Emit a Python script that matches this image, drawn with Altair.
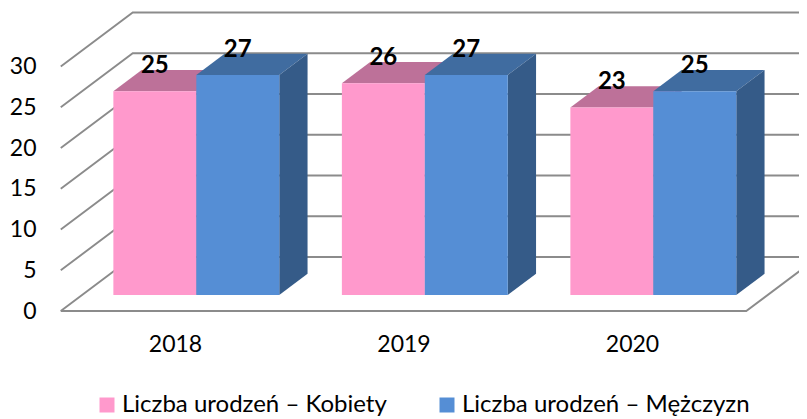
import altair as alt
import pandas as pd

years = ["2018", "2019", "2020"]
kobiety = [25, 26, 23]
mezczyzni = [27, 27, 25]
series_names = ["Liczba urodzeń – Kobiety", "Liczba urodzeń – Mężczyzn"]
y_ticks = [0, 5, 10, 15, 20, 25, 30]

# oblique projection of the 3-D chart: one unit of depth moves a point by
DEPTH_X = 0.315   # categories to the right
DEPTH_Y = 6.626   # value units upward
BAR_FRONT = 0.296
BAR_BACK = 0.689
BAR_W = 0.363

X_DOMAIN = [-0.7309, 2.7308]
Y_DOMAIN = [-13.25, 37.18]
x_scale = alt.Scale(domain=X_DOMAIN, nice=False, zero=False)
y_scale = alt.Scale(domain=Y_DOMAIN, nice=False, zero=False)
GRID = "#8b8b8b"
FONT = "Lato"

x_axis = alt.Axis(
    values=[0, 1, 2],
    labelExpr="['" + "','".join(years) + "'][datum.value]",
    orient="bottom",
    offset=-75,
    labelPadding=0,
    ticks=False,
    domain=False,
    grid=False,
    title=None,
    labelFont=FONT,
    labelFontSize=23,
    labelColor="#000000",
    labelBaseline="middle",
)
y_axis = alt.Axis(
    values=y_ticks,
    orient="left",
    offset=-28,
    labelPadding=0,
    ticks=False,
    domain=False,
    grid=False,
    title=None,
    labelFont=FONT,
    labelFontSize=23,
    labelColor="#000000",
)


def X(field="x", **kw):
    return alt.X(field, type="quantitative", scale=x_scale, axis=x_axis, **kw)


def Y(field="y", **kw):
    return alt.Y(field, type="quantitative", scale=y_scale, axis=y_axis, **kw)


# walls and floor
rows = []
for v in y_ticks:
    for i, (px, py) in enumerate([(-0.5, v), (-0.5 + DEPTH_X, v + DEPTH_Y), (3.0, v + DEPTH_Y)]):
        rows.append(dict(line=f"w{v}", i=i, x=px, y=py))
for i, (px, py) in enumerate([(-0.5, 0), (2.5, 0), (2.5 + DEPTH_X, DEPTH_Y)]):
    rows.append(dict(line="floor", i=i, x=px, y=py))
lines = (
    alt.Chart(pd.DataFrame(rows))
    .mark_line(color=GRID, strokeWidth=1.9, clip=True, strokeJoin="miter")
    .encode(x=X(), y=Y(), detail="line:N", order="i:Q")
)


def bar_layers(values, side, name, top_col, side_col):
    left = [i + (min(side, 0)) * BAR_W + BAR_FRONT * DEPTH_X for i in range(3)]
    right = [l + BAR_W for l in left]
    dx = (BAR_BACK - BAR_FRONT) * DEPTH_X
    y0f = BAR_FRONT * DEPTH_Y
    y0b = BAR_BACK * DEPTH_Y
    top_rows, side_rows, front_rows = [], [], []
    for i, v in enumerate(values):
        top_rows += [
            dict(k=i, x=left[i], x2=right[i], y=v + y0f),
            dict(k=i, x=left[i] + dx, x2=right[i] + dx, y=v + y0b),
        ]
        side_rows += [
            dict(k=i, x=right[i], y=y0f, y2=v + y0f),
            dict(k=i, x=right[i] + dx, y=y0b, y2=v + y0b),
        ]
        front_rows.append(dict(x=left[i], x2=right[i], y=y0f, y2=v + y0f, seria=name))
    top = (
        alt.Chart(pd.DataFrame(top_rows))
        .mark_area(orient="horizontal", color=top_col)
        .encode(x=X(), x2="x2:Q", y=Y(), detail="k:N")
    )
    sidef = (
        alt.Chart(pd.DataFrame(side_rows))
        .mark_area(orient="vertical", color=side_col)
        .encode(x=X(), y=Y(), y2="y2:Q", detail="k:N")
    )
    front = (
        alt.Chart(pd.DataFrame(front_rows))
        .mark_rect()
        .encode(
            x=X(),
            x2="x2:Q",
            y=Y(),
            y2="y2:Q",
            color=alt.Color(
                "seria:N",
                scale=alt.Scale(domain=series_names, range=["#FF99CC", "#558ED5"]),
                legend=alt.Legend(
                    orient="none",
                    legendX=87,
                    legendY=385,
                    direction="horizontal",
                    columns=2,
                    title=None,
                    symbolType="square",
                    symbolSize=225,
                    symbolStrokeWidth=0,
                    labelFont=FONT,
                    labelFontSize=24,
                    labelLimit=400,
                    labelColor="#000000",
                    labelOffset=3,
                    columnPadding=48,
                    symbolOpacity=1,
                ),
            ),
        )
    )
    return [top, sidef, front]


# value labels
lab_rows = []
for i in range(3):
    for side, vals in ((-1, kobiety), (1, mezczyzni)):
        lab_rows.append(
            dict(
                x=i + side * BAR_W / 2 + BAR_FRONT * DEPTH_X,
                y=vals[i] + BAR_BACK * DEPTH_Y,
                t=str(vals[i]),
            )
        )
labels = (
    alt.Chart(pd.DataFrame(lab_rows))
    .mark_text(font=FONT, fontSize=24, fontWeight="bold", color="#000000", baseline="middle", dy=-4)
    .encode(x=X(), y=Y(), text="t:N")
)

layers = [lines]
layers += bar_layers(kobiety, -1, series_names[0], "#BD7199", "#A8648A")
layers += bar_layers(mezczyzni, 1, series_names[1], "#406CA0", "#355B88")
layers += [labels]

chart = (
    alt.layer(*layers)
    .properties(width=791, height=411, padding=0, autosize=alt.AutoSizeParams(type="none"))
    .configure_view(stroke=None)
)

chart.save("out.html", embed_options={"renderer": "svg", "actions": False})
